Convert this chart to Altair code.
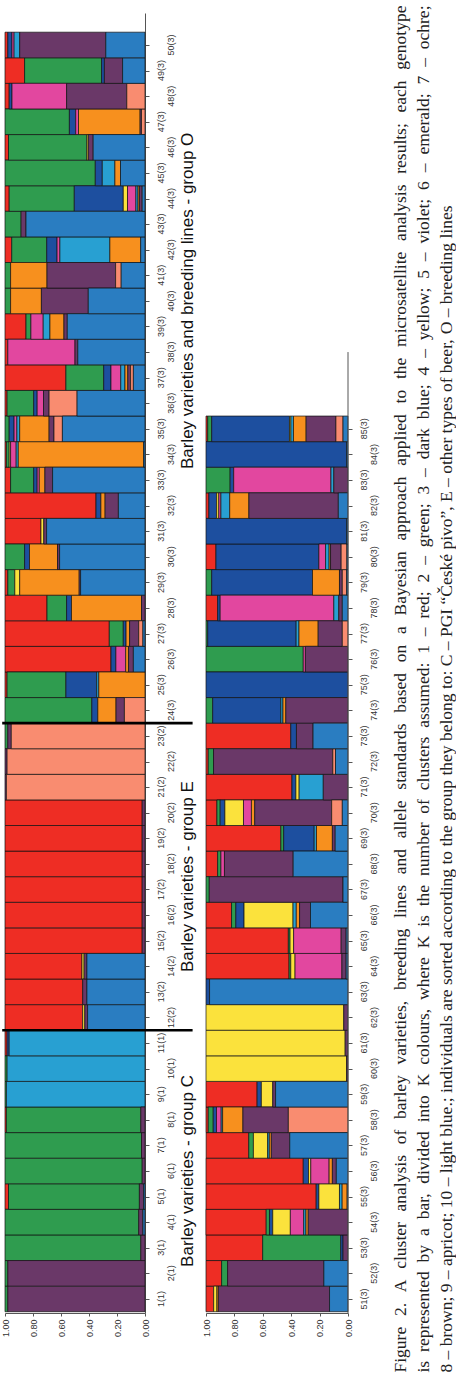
import altair as alt
import pandas as pd

# ---------------- data ----------------
CLUSTER_NAMES = ["red", "green", "dark blue", "yellow", "violet",
                 "emerald", "ochre", "brown", "apricot", "light blue"]
CLUSTER_COLORS = ["#ee2d24", "#2f9c4f", "#1d4f9f", "#fbe23c", "#e2479f",
                  "#28a0d2", "#f7901e", "#6a3868", "#f98c70", "#2a7dc1"]

# membership proportions per cluster, bars 1..85
red = [0, 0, 0, 0, .025, 0, 0, .01, 0, 0,
       .015, .555, .555, .55, .98, .98, .98, .98, .98, .98,
       0, 0, 0, 0, .015, .757, .745, .30, .02, 0,
       .257, .65, .04, .01, 0, .015, .435, .02, .15, 0,
       0, .048, 0, .03, 0, .025, 0, .03, .14, .02,
       .054, .11, .399, .425, .776, .685, .30, .016, .36, 0,
       0, 0, 0, .585, .58, .18, 0, .082, .527, .077,
       .605, .016, .597, 0, 0, 0, 0, .082, 0, .07,
       0, .02, 0, 0, .012]
green = [.02, .02, .97, .955, .935, .98, .975, .96, .01, .015,
         0, 0, 0, 0, 0, 0, 0, 0, 0, 0,
         0, 0, .02, .62, .42, 0, .10, .14, .05, .14,
         0, 0, .165, .02, .03, .19, .27, 0, .035, .04,
         .04, .25, .115, .465, .645, .56, .46, 0, .55, 0,
         0, .042, .55, .023, 0, 0, .033, .035, 0, 0,
         0, 0, 0, .012, .012, .03, .023, .023, .02, .023,
         0, .037, 0, .047, 0, .685, .012, 0, .04, 0,
         0, 0, .17, 0, .028]
dark_blue = [0, 0, 0, 0, 0, 0, 0, 0, 0, 0,
             .015, 0, 0, 0, 0, 0, 0, 0, 0, 0,
             0, 0, 0, .043, .22, .035, .02, .035, 0, .035,
             0, .035, .025, 0, .035, .025, .052, 0, 0, 0,
             0, .074, 0, .35, .05, 0, .045, .02, .02, .03,
             0, 0, .016, .023, .019, .037, 0, .023, .03, 0,
             0, 0, .025, 0, 0, .058, 0, 0, .215, .033,
             .028, 0, .04, .48, 1.0, 0, .623, .018, .71, .725,
             .99, .055, .025, .99, .548]
yellow = [0, 0, 0, 0, 0, 0, 0, 0, 0, 0,
          0, .015, 0, .015, 0, 0, 0, 0, 0, 0,
          0, 0, 0, 0, 0, 0, 0, 0, .035, 0,
          .02, 0, 0, .01, 0, 0, 0, 0, 0, 0,
          0, 0, 0, .03, 0, .01, 0, 0, 0, 0,
          .023, 0, 0, .124, .145, .016, .10, 0, .08, .99,
          .98, .97, 0, .03, .025, .345, 0, 0, 0, .131,
          .023, 0, 0, 0, 0, 0, 0, 0, 0, 0,
          0, .015, 0, 0, .01]
violet = [0, 0, 0, 0, 0, 0, 0, 0, 0, 0,
          0, 0, 0, 0, 0, 0, 0, 0, 0, 0,
          0, 0, 0, 0, 0, .07, 0, 0, 0, 0,
          0, 0, .015, .04, .02, .045, .07, .48, .088, 0,
          0, .02, 0, .06, 0, 0, .02, .39, 0, .015,
          0, 0, 0, .094, 0, .129, 0, .033, 0, 0,
          0, 0, 0, .33, .335, 0, 0, .025, 0, .056,
          0, 0, 0, 0, 0, .015, 0, .80, 0, .047,
          0, .015, .685, 0, 0]
emerald = [0, 0, 0, 0, 0, 0, 0, 0, .99, .985,
           .97, 0, 0, 0, 0, 0, 0, 0, 0, 0,
           0, 0, 0, 0, .015, 0, 0, 0, 0, 0,
           0, 0, 0, .015, .02, 0, .03, 0, .048, 0,
           0, .357, 0, .015, .09, 0, 0, 0, 0, .04,
           0, 0, 0, .016, .019, 0, .012, .01, 0, 0,
           0, 0, 0, 0, 0, .023, 0, 0, .016, 0,
           .17, 0, 0, .015, 0, 0, .02, .035, 0, .025,
           0, .062, .02, 0, .018]
ochre = [0, 0, 0, 0, 0, 0, 0, 0, 0, 0,
         0, 0, 0, 0, 0, 0, 0, 0, 0, 0,
         0, 0, 0, .13, .33, .02, .025, .50, .425, .20,
         0, .03, .04, .895, .21, 0, .02, 0, .10, .22,
         .26, .22, 0, .01, .04, 0, .44, 0, 0, 0,
         .01, 0, 0, .016, .035, .023, .014, .143, 0, 0,
         0, 0, 0, 0, 0, .023, 0, 0, .112, .023,
         0, 0, 0, .02, 0, 0, .135, 0, .19, .01,
         0, .135, 0, 0, .089]
brown = [.98, .98, .03, .03, .03, .02, .025, .03, 0, 0,
         0, .02, .03, .02, .02, .02, .02, .02, .02, .02,
         .01, .015, .025, .06, 0, .035, .065, .025, .01, .015,
         .02, .095, .055, 0, .035, .04, .02, .02, .024, .335,
         .49, 0, .035, .02, 0, .035, .01, .43, .13, .615,
         .783, .678, .035, .28, 0, .028, .13, .32, .02, .01,
         .02, .03, 0, .03, .035, .077, .942, .484, .02, .542,
         .174, .84, .117, .438, 0, .30, .17, .025, .02, .075,
         0, .63, .10, 0, .21]
apricot = [0, 0, 0, 0, 0, 0, 0, 0, 0, 0,
           0, 0, 0, 0, 0, 0, 0, 0, 0, 0,
           .99, .985, .955, .147, 0, 0, .03, 0, 0, 0,
           0, 0, 0, 0, .06, .20, .02, 0, 0, 0,
           .04, 0, 0, 0, 0, 0, .025, .13, 0, 0,
           0, 0, 0, 0, 0, 0, 0, .42, 0, 0,
           0, 0, 0, 0, 0, 0, 0, 0, 0, .075,
           0, .019, 0, 0, 0, 0, .04, 0, .03, .04,
           0, 0, 0, 0, .05]
light_blue = [0, 0, 0, .015, .01, 0, 0, 0, 0, 0,
              0, .41, .415, .415, 0, 0, 0, 0, 0, 0,
              0, 0, 0, 0, 0, .083, .015, 0, .46, .61,
              .703, .19, .66, .01, .59, .485, .083, .48, .555, .405,
              .17, .031, .85, .02, .175, .37, 0, 0, .16, .28,
              .13, .17, 0, 0, .006, .082, .41, 0, .51, 0,
              0, 0, .975, .013, .013, .264, .035, .386, .09, .04,
              0, .088, .246, 0, 0, 0, 0, .04, .01, .008,
              .01, .068, 0, .01, .035]

CLUSTERS = [red, green, dark_blue, yellow, violet,
            emerald, ochre, brown, apricot, light_blue]

# group of each individual: 1 = C, 2 = E, 3 = O
GROUP_CODE = [1] * 11 + [2] * 12 + [3] * 62

GROUP_LABELS = ["Barley varieties - group C",
                "Barley varieties - group E",
                "Barley varieties and breeding lines - group O"]
GROUP_LABEL_POS = [6.0, 17.5, 40.0]
SEPARATOR_POS = [11.5, 23.5]
SEPARATOR_FROM = [1.02, 1.02]
SEPARATOR_TO = [-0.34, -0.34]

VALUE_TICKS = [0.0, 0.2, 0.4, 0.6, 0.8, 1.0]

CAPTION = [
    "Figure 2. A cluster analysis of barley varieties, breeding lines and allele standards based on a Bayesian approach applied to the microsatellite analysis results; each genotype",
    "is represented by a bar, divided into K colours, where K is the number of clusters assumed: 1 \u2013 red; 2 \u2013 green; 3 \u2013 dark blue; 4 \u2013 yellow; 5 \u2013 violet; 6 \u2013 emerald; 7 \u2013 ochre;",
    "8 \u2013 brown; 9 \u2013 apricot; 10 \u2013 light blue.; individuals are sorted according to the group they belong to: C \u2013 PGI \u201c\u010cesk\u00e9 pivo\u201d, E \u2013 other types of beer, O \u2013 breeding lines",
]
CAPTION_JUSTIFIED = [True, True, False]

# ---------------- layout / style ----------------
Y_MIN, Y_MAX = 0.45, 51.25
PANEL_H = 1300
PPU = PANEL_H / (Y_MAX - Y_MIN)          # pixels per bar
SANS = "Liberation Sans"
SERIF = "Liberation Serif"
CAP_FONT = 17.5
CAP_LEN = 1367                            # justified line length, px
CAP_START_BELOW = 59.5                    # px below the panel bottom
CAP_OFFSETS = [53, 76, 99]                # px right of panel-2 axis

# Times / Liberation Serif advance widths (per 1000 em) for justification
_TW = {" ": 250, ",": 250, ".": 250, ";": 278, ":": 278, "(": 333, ")": 333,
       "\u2013": 500, "\u201c": 444, "\u201d": 444, "-": 333,
       "a": 444, "b": 500, "c": 444, "d": 500, "e": 444, "f": 333, "g": 500,
       "h": 500, "i": 278, "j": 278, "k": 500, "l": 278, "m": 778, "n": 500,
       "o": 500, "p": 500, "q": 500, "r": 333, "s": 389, "t": 278, "u": 500,
       "v": 500, "w": 722, "x": 500, "y": 500, "z": 444, "\u00e9": 444,
       "A": 722, "B": 667, "C": 667, "D": 722, "E": 611, "F": 556, "G": 722,
       "I": 333, "K": 722, "O": 722, "P": 556, "\u010c": 667}


def text_width(s):
    return sum(_TW.get(ch, 500) for ch in s) / 1000.0 * CAP_FONT


# ---------------- tables ----------------
rows = []
for k, series in enumerate(CLUSTERS, start=1):
    for i, v in enumerate(series, start=1):
        rows.append({"bar": i, "k": k, "v": v, "cluster": CLUSTER_NAMES[k - 1],
                     "panel": 1 if i <= 50 else 2, "pos": i if i <= 50 else i - 50})
df = pd.DataFrame(rows)

lab = pd.DataFrame({"bar": list(range(1, 86)), "grp": GROUP_CODE})
lab["label"] = [f"{b}({g})" for b, g in zip(lab["bar"], lab["grp"])]
lab["pos"] = [b if b <= 50 else b - 50 for b in lab["bar"]]
lab["panel"] = [1 if b <= 50 else 2 for b in lab["bar"]]

x_scale = alt.Scale(domain=[0, 1], reverse=True, nice=False, zero=False)
y_scale = alt.Scale(domain=[Y_MIN, Y_MAX], nice=False, zero=False)
color_scale = alt.Scale(domain=list(range(1, 11)), range=CLUSTER_COLORS)

AXIS_X = alt.Axis(values=VALUE_TICKS, format=".2f", labelAngle=270,
                  labelFont=SANS, labelFontSize=9, labelColor="#333333",
                  labelOverlap=False, labelFlush=False,
                  tickSize=3, tickColor="#555555", domainColor="#555555",
                  labelPadding=3, grid=False, title=None)


def axis_y(n, show_domain):
    return alt.Axis(orient="right", values=list(range(1, n + 1)), labels=False,
                    tickSize=4, tickColor="#555555", domain=show_domain,
                    domainColor="#555555", grid=False, title=None)


X0 = alt.X(datum=0, scale=x_scale, axis=AXIS_X)   # anchor on the 0.00 edge

# note: with angle=270, dy moves text to the right on screen and
# dx moves it upward on screen


def bar_layer(sub, ax_y):
    return alt.Chart(sub).transform_window(
        cum="sum(v)", sort=[alt.SortField("k", order="descending")], groupby=["bar"]
    ).transform_calculate(
        start="datum.cum - datum.v", lo="datum.pos - 0.5", hi="datum.pos + 0.5"
    ).transform_filter("datum.v > 0").mark_rect(
        stroke="#111111", strokeWidth=0.7
    ).encode(
        x=alt.X("start:Q", scale=x_scale, axis=AXIS_X),
        x2="cum:Q",
        y=alt.Y("lo:Q", scale=y_scale, axis=ax_y),
        y2="hi:Q",
        color=alt.Color("k:O", scale=color_scale, legend=None),
        tooltip=["bar:Q", "cluster:N", "v:Q"],
    )


def label_layers(sub, ax_y):
    layers = []
    for parity, off in ((1, 16), (0, 26)):
        part = sub[sub["bar"] % 2 == parity]
        layers.append(alt.Chart(part).mark_text(
            angle=270, align="center", baseline="middle", dy=off,
            font=SANS, fontSize=9, color="#333333"
        ).encode(x=X0, y=alt.Y("pos:Q", scale=y_scale, axis=ax_y), text="label:N"))
    return layers


# ---------------- panel 1 ----------------
AX_Y1 = axis_y(50, True)
d1 = df[df["panel"] == 1]
l1 = lab[lab["panel"] == 1]

groups = pd.DataFrame({"name": GROUP_LABELS, "pos": GROUP_LABEL_POS})
group_text = alt.Chart(groups).mark_text(
    angle=270, align="center", baseline="middle", dy=43,
    font=SANS, fontSize=17, color="#111111"
).encode(x=X0, y=alt.Y("pos:Q", scale=y_scale, axis=AX_Y1), text="name:N")

seps = pd.DataFrame({"pos": SEPARATOR_POS, "x0": SEPARATOR_FROM, "x1": SEPARATOR_TO})
sep_rules = alt.Chart(seps).mark_rule(color="#000000", strokeWidth=2.6).encode(
    x=alt.X("x0:Q", scale=x_scale, axis=AXIS_X), x2="x1:Q",
    y=alt.Y("pos:Q", scale=y_scale, axis=AX_Y1)
)

panel1 = alt.layer(bar_layer(d1, AX_Y1), *label_layers(l1, AX_Y1), group_text, sep_rules).properties(
    width=140, height=PANEL_H
)

# ---------------- panel 2 ----------------
AX_Y2 = axis_y(35, False)
d2 = df[df["panel"] == 2]
l2 = lab[lab["panel"] == 2]

axis_line = alt.Chart(pd.DataFrame({"y0": [Y_MIN], "y1": [38.0]})).mark_rule(
    color="#555555", strokeWidth=1
).encode(x=X0, y=alt.Y("y0:Q", scale=y_scale, axis=AX_Y2), y2="y1:Q")

# caption: words laid out along each (rotated) line, justified like the print
caption_layers = []
for j, line in enumerate(CAPTION):
    words = line.split(" ")
    widths = [text_width(w) for w in words]
    if CAPTION_JUSTIFIED[j]:
        gap = (CAP_LEN - sum(widths)) / (len(words) - 1)
    else:
        gap = text_width(" ")
    off = 0.0
    wrows = []
    for w, wd in zip(words, widths):
        wrows.append({"word": w, "y": Y_MIN + (off - CAP_START_BELOW) / PPU})
        off += wd + gap
    caption_layers.append(
        alt.Chart(pd.DataFrame(wrows)).mark_text(
            angle=270, align="left", baseline="middle", dy=CAP_OFFSETS[j],
            font=SERIF, fontSize=CAP_FONT, color="#222222"
        ).encode(x=X0, y=alt.Y("y:Q", scale=y_scale, axis=AX_Y2), text="word:N")
    )

panel2 = alt.layer(bar_layer(d2, AX_Y2), axis_line, *label_layers(l2, AX_Y2), *caption_layers).properties(
    width=142, height=PANEL_H
)

chart = alt.hconcat(panel1, panel2, spacing=61, bounds="flush").properties(
    padding={"left": 0, "top": 5, "right": 0, "bottom": 0}
).configure(background="#ffffff").configure_view(stroke=None).configure_axis(labelOverlap=False)

chart.save("out.html", embed_options={"renderer": "svg", "actions": False})
